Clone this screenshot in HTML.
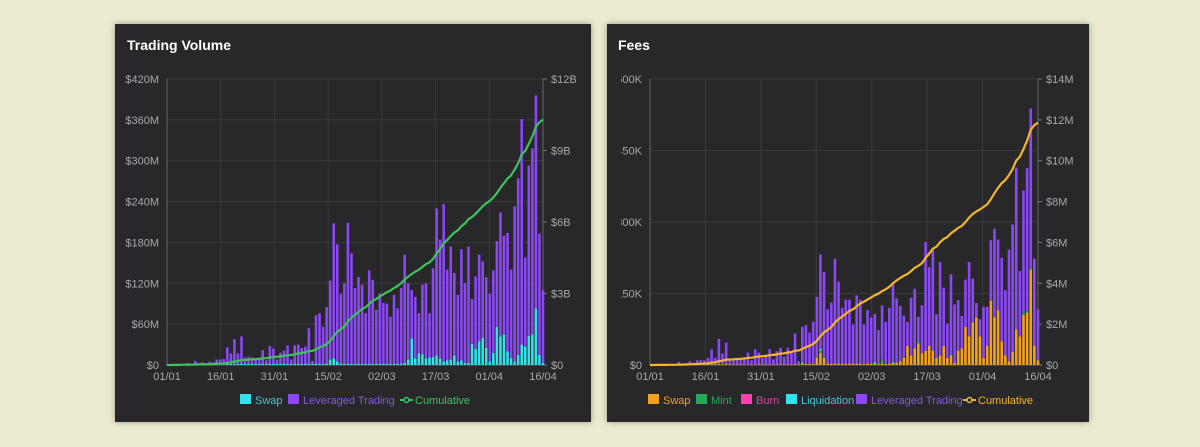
<!DOCTYPE html>
<html><head><meta charset="utf-8"><style>
body{margin:0;width:1200px;height:447px;background:#ecebcf;overflow:hidden;font-family:"Liberation Sans",sans-serif}
.panel{position:absolute;background:#28282a;box-shadow:0 0 6px rgba(0,0,0,.35)}
svg text{font-family:"Liberation Sans",sans-serif}
</style></head><body>
<div class="panel" style="left:115px;top:24px;width:476px;height:398px"></div>
<div class="panel" style="left:607px;top:24px;width:482px;height:398px"></div>
<svg id="s" width="1200" height="447" style="position:absolute;left:0;top:0">
<defs><clipPath id="clipR"><rect x="621" y="0" width="480" height="447"/></clipPath></defs>
<text x="127" y="50" fill="#fff" font-size="14" font-weight="bold">Trading Volume</text>
<text x="618" y="50" fill="#fff" font-size="14" font-weight="bold">Fees</text>
</svg>
<script>
const dateLabels=["01/01","16/01","31/01","15/02","02/03","17/03","01/04","16/04"];
const dateDays=[0,15,30,45,60,75,90,105];
const volLeftTicks=[0,60,120,180,240,300,360,420];
const volLeftLabels=["$0","$60M","$120M","$180M","$240M","$300M","$360M","$420M"];
const volRightTicks=[0,3,6,9,12];
const volRightLabels=["$0","$3B","$6B","$9B","$12B"];
const feeLeftTicks=[0,150,300,450,600];
const feeLeftLabels=["$0","$150K","$300K","$450K","$600K"];
const feeRightTicks=[0,2,4,6,8,10,12,14];
const feeRightLabels=["$0","$2M","$4M","$6M","$8M","$10M","$12M","$14M"];
// Trading volume ($M per day)
const volSwap=[0,0,0,0,0,0,0,0,0,0,0,0,0,0,0,0,0,2,2,2,2,2,2,2,2,2,2,2,2,2,2,2,2,2,2,2,2,2,2,2,2,2,2,2,2,2,8,10,5,2,2,2,2,2,2,2,2,2,2,2,2,2,2,2,2,2,2,3,8,39,10,17,16,10,11,12,14,10,5,7,8,14,5,7,3,3,31,24,35,40,25,5,18,56,42,45,20,10,5,15,30,27,43,45,83,15,3];
const volLev=[1,1,1,2,2,2,3,2,6,3,4,3,5,4,8,8,9,24,15,36,15,40,9,10,9,8,6,20,5,26,22,6,16,19,27,6,27,28,23,25,52,4,71,74,54,83,116,198,172,103,118,207,162,111,127,116,74,137,123,79,103,89,88,69,101,81,111,159,112,71,90,59,102,110,65,130,216,174,231,133,166,121,98,163,117,171,66,106,127,112,104,100,121,126,182,145,174,130,228,259,331,131,250,273,313,178,107];
// Fees ($K per day)
const feeSwap=[0,0,0,0,0,0,0,0,0,0,0,0,0,0,0,0,1,2,1,2,1,2,1,1,1,1,1,1,1,1,1,1,1,1,1,1,1,1,1,1,2,1,2,2,2,2,15,25,15,3,3,3,3,3,3,3,3,3,3,2,3,3,2,2,3,2,3,3,5,8,15,40,20,35,45,25,30,40,30,15,20,40,15,20,5,30,35,80,60,90,100,60,15,40,135,100,115,50,20,8,28,75,60,105,110,200,40,10];
const feeMint=[0,0,0,0,0,0,0,0,0,0,0,0,0,0,0,0,0,0,2,0,0,0,0,0,0,0,0,0,0,0,0,0,0,0,0,0,0,0,0,0,0,0,0,0,0,0,3,5,2,0,0,0,0,0,0,0,0,0,0,0,0,0,0,0,8,0,0,0,0,0,2,0,0,0,5,0,0,0,0,0,0,0,0,2,0,0,0,0,0,0,0,0,0,0,0,0,0,0,0,0,0,0,0,5,5,4,0,0];
const feeBurn=[0,0,0,0,0,0,0,0,0,0,0,0,0,0,0,0,0,0,0,0,0,0,0,0,0,0,0,0,0,0,0,0,0,0,0,0,0,0,0,0,0,0,0,0,0,0,0,0,0,0,0,0,0,0,0,0,0,0,0,0,0,0,0,0,0,0,0,0,0,0,0,0,0,0,0,0,0,0,0,0,0,0,0,0,0,0,0,0,0,0,0,0,0,0,0,0,0,0,0,0,0,0,0,0,0,0,0,0];
const feeLiq=[0,0,0,0,0,0,0,0,0,0,0,0,0,0,0,0,0,0,0,0,0,0,0,0,0,0,0,0,0,0,0,0,0,0,0,0,0,0,0,0,0,0,3,0,0,0,0,4,0,0,0,0,0,0,0,0,0,0,0,0,0,0,4,0,0,0,0,3,0,0,0,0,0,0,0,0,0,0,0,0,0,0,0,0,0,0,0,0,0,0,0,0,0,0,0,0,0,0,0,0,0,0,0,0,0,0,0,0];
const feeLev=[1,1,1,1,2,2,2,2,6,3,4,8,5,10,10,10,14,31,12,53,23,45,11,11,11,11,14,25,9,32,25,14,16,32,11,28,35,16,35,25,64,7,75,82,66,89,125,198,178,114,128,220,172,117,134,134,82,143,134,83,112,97,101,71,114,88,117,166,135,116,87,50,121,125,51,100,228,165,212,91,196,122,72,168,122,106,68,99,156,91,30,36,107,82,127,186,148,175,137,234,267,339,137,256,298,334,183,107];

const NS="http://www.w3.org/2000/svg";
const svg=document.getElementById('s');
function mk(tag,attrs,parent){const e=document.createElementNS(NS,tag);for(const k in attrs)e.setAttribute(k,attrs[k]);(parent||svg).appendChild(e);return e;}

function chart(cfg){
  const {x0,x1,yT,yB,lMax,rMax}=cfg;
  const W=x1-x0;
  const dayX=d=>x0+d*W/105;
  const yL=v=>yB-v/lMax*(yB-yT);
  const yR=v=>yB-v/rMax*(yB-yT);
  const g=mk('g',{});
  cfg.lt.forEach((t,i)=>{
    const l=mk('line',{x1:x0,x2:x1,y1:yL(t),y2:yL(t),stroke:'#3a3a3d','stroke-width':1},g);
    
    
    const parent=cfg.clipLeft?mk('g',{'clip-path':'url(#clipR)'},g):g;
    const tx=mk('text',{x:x0-8,y:yL(t)+4,'text-anchor':'end',fill:'#a8a8ab','font-size':11},parent);
    tx.textContent=cfg.ll[i];
    
    
  });
  dateDays.forEach((d,i)=>{
    if(i>0&&i<dateDays.length-1){
      const l=mk('line',{x1:dayX(d),x2:dayX(d),y1:yT,y2:yB,stroke:'#3a3a3d','stroke-width':1},g);
      
      
    }
    const tx=mk('text',{x:dayX(d),y:yB+15,'text-anchor':'middle',fill:'#a8a8ab','font-size':11},g);
    tx.textContent=dateLabels[i];
    
    
  });
  cfg.rt.forEach((t,i)=>{
    const l=mk('line',{x1:x1,x2:x1+4,y1:yR(t),y2:yR(t),stroke:'#777','stroke-width':1},g);
    
    
    const tx=mk('text',{x:x1+8,y:yR(t)+4,fill:'#a8a8ab','font-size':11},g);
    tx.textContent=cfg.rl[i];
    
    
  });
  const ax=mk('line',{x1:x0,x2:x0,y1:yT,y2:yB,stroke:'#666'},g);
  
  
  const ax2=mk('line',{x1:x1,x2:x1,y1:yT,y2:yB,stroke:'#666'},g);
  
  
  const ax3=mk('line',{x1:x0,x2:x1,y1:yB,y2:yB,stroke:'#666'},g);
  
  
  const n=cfg.series[0].data.length;
  const step=W/(n-1), bw=step*0.72;
  const cum=[];let run=0;
  for(let i=0;i<n;i++){
    let acc=0;const cx=x0+i*step;
    cfg.series.forEach(s=>{
      const v=s.data[i]||0;
      if(v>0){
        const r=mk('rect',{x:cx-bw/2,y:yL(acc+v),width:bw,height:yL(acc)-yL(acc+v),fill:s.color},g);
        
        
      }
      acc+=v;
    });
    run+=acc;cum.push(run);
  }
  const pts=cum.map((c,i)=>(x0+i*step).toFixed(1)+','+yR(c*cfg.cumScale).toFixed(1)).join(' ');
  const pl=mk('polyline',{points:pts,fill:'none',stroke:cfg.lineColor,'stroke-width':2.2,'stroke-linejoin':'round'},g);
  
  
  let lx=cfg.legendX;const ly=404;
  cfg.legend.forEach(it=>{
    const lg=mk('g',{},g);
    
    
    if(it.line){
      mk('line',{x1:lx,x2:lx+13,y1:ly-4,y2:ly-4,stroke:it.color,'stroke-width':2},lg);
      mk('circle',{cx:lx+6.5,cy:ly-4,r:2.5,fill:'#28282a',stroke:it.color,'stroke-width':1.5},lg);
    } else mk('rect',{x:lx,y:ly-10,width:11,height:10,fill:it.color},lg);
    const t=mk('text',{x:lx+15,y:ly,fill:it.tcolor||it.color,'font-size':11},lg);
    t.textContent=it.label;
    lx+=15+it.w;
  });
}
chart({x0:167,x1:543,yT:79,yB:365,lMax:420,rMax:12,lt:volLeftTicks,ll:volLeftLabels,rt:volRightTicks,rl:volRightLabels,
  series:[{name:'swap',data:volSwap,color:'#33e3ea'},{name:'leveraged-trading',data:volLev,color:'#8b48f4'}],
  cumScale:0.001,lineColor:'#3ec25b',legendX:240,
  legend:[{key:'swap',label:'Swap',color:'#33e3ea',tcolor:'#3fc9d0',w:33},{key:'leveraged-trading',label:'Leveraged Trading',color:'#8b48f4',tcolor:'#8557e0',w:97},{key:'cumulative',label:'Cumulative',line:true,color:'#3ec25b',w:60}]});
chart({x0:650,x1:1038,yT:79,yB:365,lMax:600,rMax:14,lt:feeLeftTicks,ll:feeLeftLabels,rt:feeRightTicks,rl:feeRightLabels,clipLeft:true,
  series:[{name:'swap',data:feeSwap,color:'#f4a121'},{name:'mint',data:feeMint,color:'#27a85a'},{name:'burn',data:feeBurn,color:'#ff40b0'},{name:'liquidation',data:feeLiq,color:'#33e3ea'},{name:'leveraged-trading',data:feeLev,color:'#8b48f4'}],
  cumScale:0.001,lineColor:'#f5b52a',legendX:648,
  legend:[{key:'swap',label:'Swap',color:'#f4a121',w:33},{key:'mint',label:'Mint',color:'#27a85a',w:30},{key:'burn',label:'Burn',color:'#ff40b0',tcolor:'#d04aa0',w:30},{key:'liquidation',label:'Liquidation',color:'#33e3ea',tcolor:'#3fc9d0',w:55},{key:'leveraged-trading',label:'Leveraged Trading',color:'#8b48f4',tcolor:'#8557e0',w:92},{key:'cumulative',label:'Cumulative',line:true,color:'#f5b52a',w:60}]});
</script>
</body></html>
